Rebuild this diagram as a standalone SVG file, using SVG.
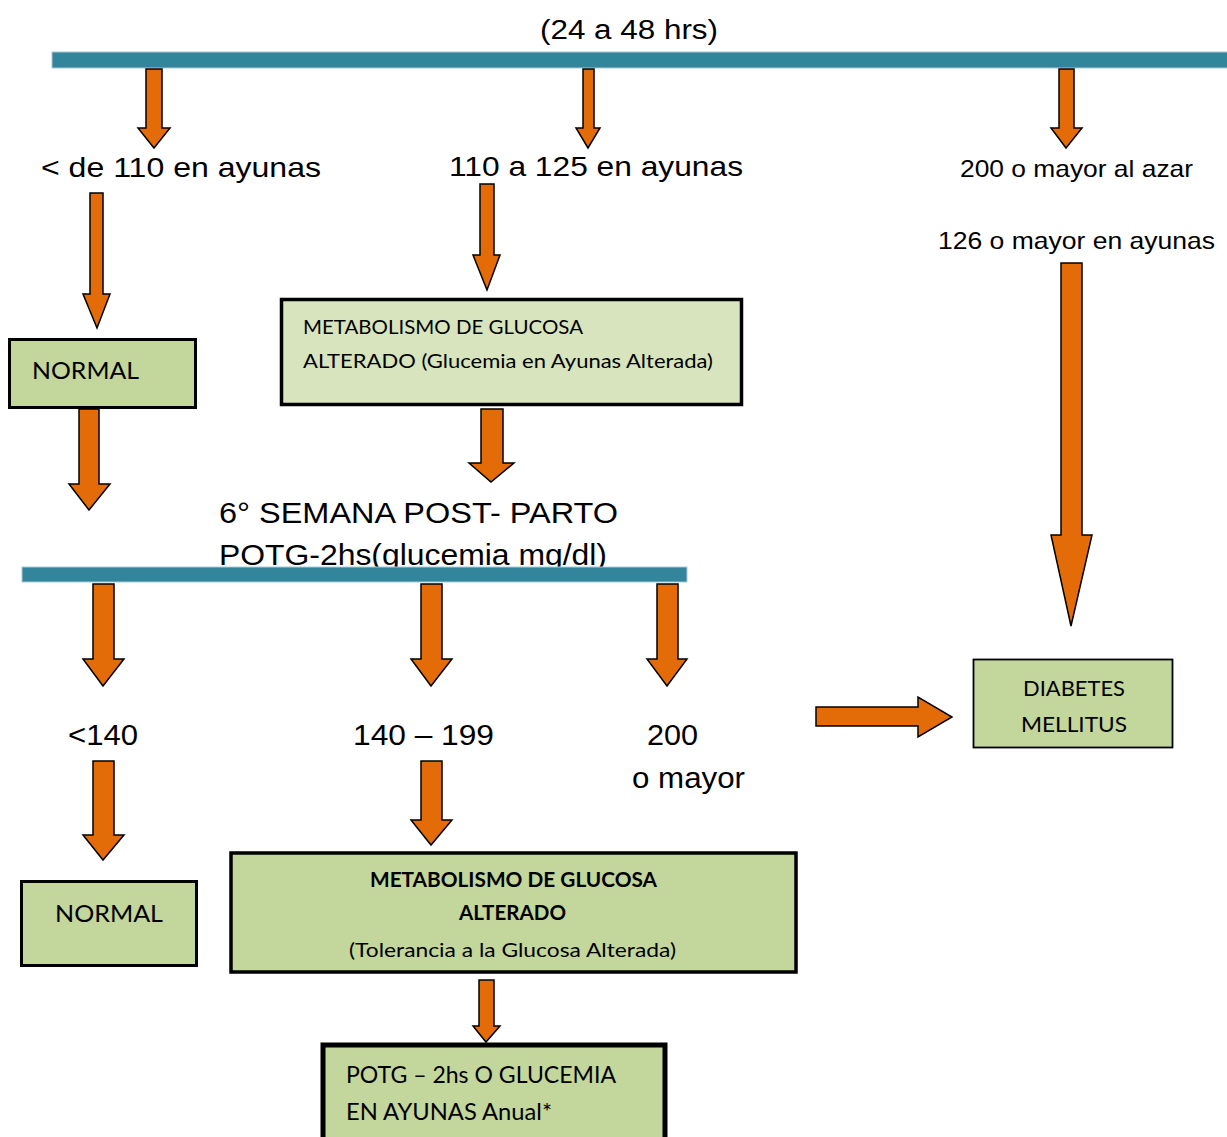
<svg xmlns="http://www.w3.org/2000/svg" width="1227" height="1137" viewBox="0 0 1227 1137">
<style>
.bar{fill:#32859B;stroke:#A9CBD5;stroke-width:1}
.arr{fill:#E36C09;stroke:#000;stroke-width:1.5;stroke-linejoin:miter}
.lbl{font-family:"Liberation Sans",Arial,sans-serif;fill:#000}
.box{fill:#C3D69B;stroke:#000}
.bt{font-family:Lato,"Open Sans",sans-serif;fill:#000}
</style>
<rect width="1227" height="1137" fill="#fff"/>
<g id="labels">
<text class="lbl" x="540" y="39" font-size="27" textLength="178" lengthAdjust="spacingAndGlyphs">(24 a 48 hrs)</text>
<text class="lbl" x="41" y="177" font-size="28" textLength="280" lengthAdjust="spacingAndGlyphs">&lt; de 110 en ayunas</text>
<text class="lbl" x="449" y="176" font-size="28" textLength="294" lengthAdjust="spacingAndGlyphs">110 a 125 en ayunas</text>
<text class="lbl" x="960" y="177" font-size="24" textLength="233" lengthAdjust="spacingAndGlyphs">200 o mayor al azar</text>
<text class="lbl" x="938" y="249" font-size="24" textLength="277" lengthAdjust="spacingAndGlyphs">126 o mayor en ayunas</text>
<text class="lbl" x="219" y="523" font-size="29" textLength="399" lengthAdjust="spacingAndGlyphs">6° SEMANA POST- PARTO</text>
<text class="lbl" x="219" y="565" font-size="29" textLength="388" lengthAdjust="spacingAndGlyphs">POTG-2hs(glucemia mg/dl)</text>
<text class="lbl" x="68" y="745" font-size="29" textLength="70" lengthAdjust="spacingAndGlyphs">&lt;140</text>
<text class="lbl" x="353" y="745" font-size="29" textLength="141" lengthAdjust="spacingAndGlyphs">140 – 199</text>
<text class="lbl" x="647" y="745" font-size="29" textLength="51" lengthAdjust="spacingAndGlyphs">200</text>
<text class="lbl" x="632" y="788" font-size="29" textLength="113" lengthAdjust="spacingAndGlyphs">o mayor</text>
</g>
<g id="bars">
<rect class="bar" x="52" y="52" width="1176" height="16"/>
<rect class="bar" x="22" y="567" width="665" height="15"/>
</g>
<g id="node-normal-top">
<rect class="box" x="9.5" y="339.5" width="186" height="68" stroke-width="3"/>
<text class="bt" x="32" y="379" font-size="24" textLength="107" lengthAdjust="spacingAndGlyphs">NORMAL</text>
</g>
<g id="node-mga">
<rect x="281.5" y="299.5" width="460" height="105" fill="#D7E4BD" stroke="#000" stroke-width="3.5"/>
<text class="bt" x="303" y="334" font-size="20" textLength="280" lengthAdjust="spacingAndGlyphs">METABOLISMO DE GLUCOSA</text>
<text class="bt" x="303" y="368" font-size="20" textLength="410" lengthAdjust="spacingAndGlyphs">ALTERADO (Glucemia en Ayunas Alterada)</text>
</g>
<g id="node-dm">
<rect class="box" x="973.5" y="659.5" width="199" height="88" stroke-width="1.8"/>
<text class="bt" x="1074" y="696" font-size="21" text-anchor="middle" textLength="102" lengthAdjust="spacingAndGlyphs">DIABETES</text>
<text class="bt" x="1074" y="732" font-size="21" text-anchor="middle" textLength="106" lengthAdjust="spacingAndGlyphs">MELLITUS</text>
</g>
<g id="node-normal-bottom">
<rect class="box" x="21.5" y="881.5" width="175" height="84" stroke-width="3"/>
<text class="bt" x="55" y="922" font-size="24" textLength="108" lengthAdjust="spacingAndGlyphs">NORMAL</text>
</g>
<g id="node-mgt">
<rect class="box" x="231" y="853" width="565" height="119" stroke-width="3.5"/>
<text class="bt" x="370" y="887" font-size="20" font-weight="bold" textLength="287" lengthAdjust="spacingAndGlyphs">METABOLISMO DE GLUCOSA</text>
<text class="bt" x="459" y="920" font-size="20" font-weight="bold" textLength="107" lengthAdjust="spacingAndGlyphs">ALTERADO</text>
<text class="bt" x="349" y="957" font-size="20" textLength="327" lengthAdjust="spacingAndGlyphs">(Tolerancia a la Glucosa Alterada)</text>
</g>
<g id="node-potg">
<rect class="box" x="323" y="1045" width="342" height="100" stroke-width="5"/>
<text class="bt" x="346" y="1083" font-size="23" textLength="270" lengthAdjust="spacingAndGlyphs">POTG – 2hs O GLUCEMIA</text>
<text class="bt" x="346" y="1120" font-size="23" textLength="206" lengthAdjust="spacingAndGlyphs">EN AYUNAS Anual*</text>
</g>
<g id="connectors">
<polygon class="arr" points="146,69 162,69 162,128 170,128 154,148 138,128 146,128"/>
<polygon class="arr" points="583,69 594,69 594,128 600,128 588,148 576,128 583,128"/>
<polygon class="arr" points="1059,69 1074,69 1074,128 1082,128 1066,148 1051,128 1059,128"/>
<polygon class="arr" points="90,193 103,193 103,294 110,294 97,328 83,294 90,294"/>
<polygon class="arr" points="79,409 99,409 99,484 110,484 89,510 69,484 79,484"/>
<polygon class="arr" points="480,184 494,184 494,255 500,255 487,290 473,255 480,255"/>
<polygon class="arr" points="481,409 503,409 503,463 514,463 491,482 469,463 481,463"/>
<polygon class="arr" points="1061,263 1082,263 1082,535 1092,535 1071,626 1051,535 1061,535"/>
<polygon class="arr" points="816,707 918,707 918,697 952,717 918,737 918,726 816,726"/>
<polygon class="arr" points="93,584 114,584 114,659 124,659 103,686 83,659 93,659"/>
<polygon class="arr" points="421,584 442,584 442,659 452,659 431,686 411,659 421,659"/>
<polygon class="arr" points="657,584 678,584 678,659 687,659 667,686 647,659 657,659"/>
<polygon class="arr" points="93,761 114,761 114,835 124,835 103,860 83,835 93,835"/>
<polygon class="arr" points="421,761 442,761 442,820 452,820 431,845 411,820 421,820"/>
<polygon class="arr" points="479,980 494,980 494,1026 500,1026 486,1042 473,1026 479,1026"/>
</g>
</svg>
